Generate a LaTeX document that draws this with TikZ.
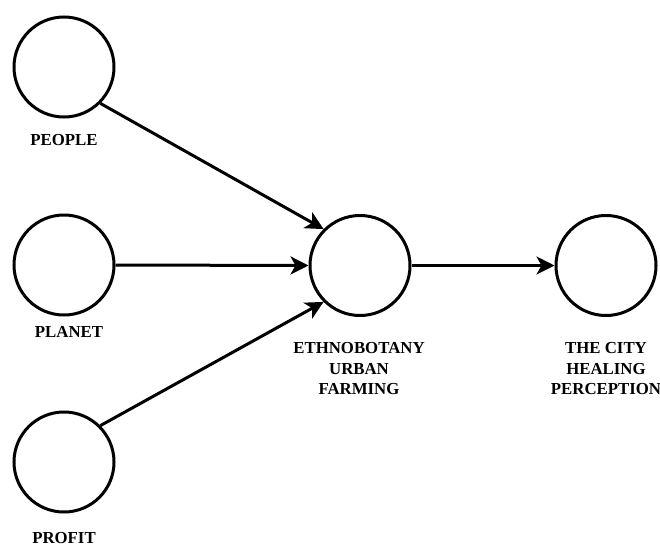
\documentclass[tikz,border=0pt]{standalone}
\usepackage{fontspec}
\setmainfont{Liberation Serif}
\usetikzlibrary{arrows.meta}
\begin{document}
\begin{tikzpicture}[x=1pt,y=-1pt,
  var/.style={draw,circle,line width=3pt,minimum size=100pt,inner sep=0pt},
  lbl/.style={font=\fontsize{16.8}{20.5}\selectfont\bfseries,align=center,inner sep=0pt},
  conn/.style={line width=3pt,-{Stealth[length=18pt,width=18pt,inset=5pt]}}]
\useasboundingbox (0,0) rectangle (660,546);
\node[var] (people) at (64,67) {};
\node[var] (planet) at (64,265) {};
\node[var] (profit) at (64,462) {};
\node[var] (ethno) at (360,265.5) {};
\node[var] (city) at (606,265.5) {};
\node[lbl] (lpeople) at (64,140) {PEOPLE};
\node[lbl] (lplanet) at (69,332) {PLANET};
\node[lbl] (lprofit) at (64,538) {PROFIT};
\node[lbl] (lethno) at (359,369) {ETHNOBOTANY\\URBAN\\FARMING};
\node[lbl] (lcity) at (606,369) {THE CITY\\HEALING\\PERCEPTION};
\draw[conn] (people.south east) -- (ethno.north west);
\draw[conn] (planet.east) -- (ethno.west);
\draw[conn] (profit.north east) -- (ethno.south west);
\draw[conn] (ethno.east) -- (city.west);
\end{tikzpicture}
\end{document}
